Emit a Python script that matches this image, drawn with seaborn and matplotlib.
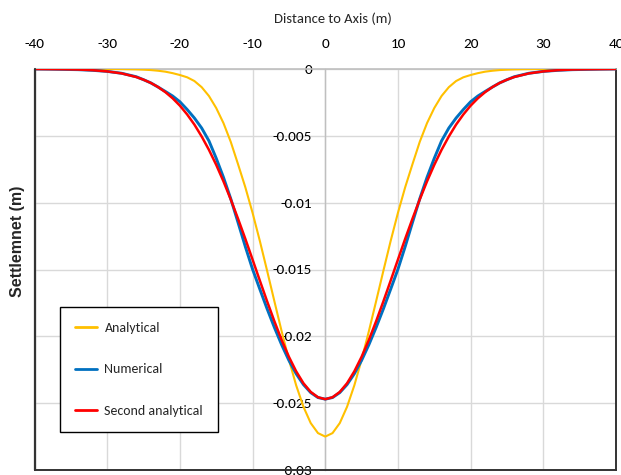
import numpy as np
import pandas as pd
import seaborn as sns
import matplotlib.pyplot as plt
from matplotlib.lines import Line2D

sns.set_theme(style="white")
plt.rcParams['font.family'] = ['Carlito', 'DejaVu Sans']

# ---- data ----
x = [-40, -38, -36, -34, -32, -30, -28, -26,
     -25, -24, -23, -22, -21, -20, -19, -18, -17, -16, -15, -14, -13, -12, -11, -10,
     -9, -8, -7, -6, -5, -4, -3, -2, -1, 0, 1, 2, 3, 4, 5, 6, 7, 8, 9,
     10, 11, 12, 13, 14, 15, 16, 17, 18, 19, 20, 21, 22, 23, 24, 25,
     26, 28, 30, 32, 34, 36, 38, 40]

analytical = [0, 0, 0, 0, 0, 0, -0.00001, -0.00003,
              -0.00005, -0.00008, -0.00013, -0.00020, -0.00031, -0.00045, -0.00062, -0.00090,
              -0.00136, -0.00202, -0.00292, -0.00405, -0.00545, -0.00712, -0.00884, -0.01076,
              -0.01286, -0.01509, -0.01737, -0.01962, -0.02175, -0.02367, -0.02527, -0.02649,
              -0.02724, -0.02750, -0.02724, -0.02649, -0.02527, -0.02367, -0.02175, -0.01962,
              -0.01737, -0.01509, -0.01286,
              -0.01076, -0.00884, -0.00712, -0.00545, -0.00405, -0.00292, -0.00202, -0.00136,
              -0.00090, -0.00062, -0.00045, -0.00031, -0.00020, -0.00013, -0.00008, -0.00005,
              -0.00003, -0.00001, 0, 0, 0, 0, 0, 0]

numerical = [0, -0.00001, -0.00003, -0.00005, -0.00010, -0.00018, -0.00032, -0.00058,
             -0.00080, -0.00104, -0.00135, -0.00168, -0.00202, -0.00245, -0.00303, -0.00367,
             -0.00442, -0.00538, -0.00668, -0.00811, -0.00971, -0.01148, -0.01328, -0.01498,
             -0.01647, -0.01794, -0.01933, -0.02063, -0.02180, -0.02280, -0.02361, -0.02421,
             -0.02458, -0.02470, -0.02458, -0.02421, -0.02361, -0.02280, -0.02180, -0.02063,
             -0.01933, -0.01794, -0.01647,
             -0.01498, -0.01328, -0.01148, -0.00971, -0.00811, -0.00668, -0.00538, -0.00442,
             -0.00367, -0.00303, -0.00245, -0.00202, -0.00168, -0.00135, -0.00104, -0.00080,
             -0.00058, -0.00032, -0.00018, -0.00010, -0.00005, -0.00003, -0.00001, 0]

second_analytical = [0, -0.00001, -0.00002, -0.00004, -0.00009, -0.00018, -0.00033, -0.00060,
                     -0.00080, -0.00104, -0.00135, -0.00173, -0.00219, -0.00274, -0.00340, -0.00416,
                     -0.00505, -0.00605, -0.00717, -0.00841, -0.00976, -0.01120, -0.01270, -0.01426,
                     -0.01583, -0.01738, -0.01887, -0.02027, -0.02153, -0.02262, -0.02351, -0.02416,
                     -0.02456, -0.02470, -0.02456, -0.02416, -0.02351, -0.02262, -0.02153, -0.02027,
                     -0.01887, -0.01738, -0.01583,
                     -0.01426, -0.01270, -0.01120, -0.00976, -0.00841, -0.00717, -0.00605, -0.00505,
                     -0.00416, -0.00340, -0.00274, -0.00219, -0.00173, -0.00135, -0.00104, -0.00080,
                     -0.00060, -0.00033, -0.00018, -0.00009, -0.00004, -0.00002, -0.00001, 0]

series_names = ["Analytical", "Numerical", "Second analytical"]
colors = ["#FFC000", "#0070C0", "#FF0000"]
widths = [1.5, 2.1, 1.8]

x_ticks = [-40, -30, -20, -10, 0, 10, 20, 30, 40]
y_ticks = [0, -0.005, -0.01, -0.015, -0.02, -0.025, -0.03]
y_tick_labels = ["0", "-0.005", "-0.01", "-0.015", "-0.02", "-0.025", "-0.03"]

df = pd.DataFrame({
    "x": x * 3,
    "y": analytical + numerical + second_analytical,
    "series": sum([[n] * len(x) for n in series_names], []),
})

W, H = 621, 475
fig = plt.figure(figsize=(W / 100, H / 100), dpi=100)
ax = fig.add_axes([34.5 / W, 1 - 470 / H, (616 - 34.5) / W, (470 - 69) / H])

for name, c, lw in zip(series_names, colors, widths):
    sns.lineplot(data=df[df.series == name], x="x", y="y", color=c, linewidth=lw,
                 sort=False, estimator=None, ax=ax, legend=False, zorder=3)

ax.set_xlim(-40, 40)
ax.set_ylim(-0.03, 0)
ax.set_xticks(x_ticks)
ax.set_xticklabels([str(v) for v in x_ticks])
ax.set_yticks(y_ticks)
ax.set_yticklabels(y_tick_labels)
ax.set_xlabel("")
ax.set_ylabel("")

ax.xaxis.tick_top()
ax.tick_params(axis="x", length=0, pad=14, labelsize=11, colors="black")
ax.tick_params(axis="y", length=0, pad=9.5, labelsize=11, colors="black")

ax.grid(True, color="#D9D9D9", linewidth=1)
ax.set_axisbelow(True)

ax.spines["left"].set_position(("data", 0))
ax.spines["left"].set_color("#BFBFBF")
ax.spines["left"].set_linewidth(1)
ax.spines["top"].set_color("#BFBFBF")
ax.spines["top"].set_linewidth(1.2)
ax.spines["bottom"].set_color("#333333")
ax.spines["bottom"].set_linewidth(1.4)
ax.spines["right"].set_color("#333333")
ax.spines["right"].set_linewidth(1.4)
ax.axvline(-40, color="#333333", linewidth=1.6, clip_on=False, zorder=4)

fig.text(333 / W, 1 - 19 / H, "Distance to Axis (m)", ha="center", va="center", fontsize=10.5)
fig.text(18 / W, 1 - 241 / H, "Settlemnet (m)", rotation=90, ha="center", va="center",
         fontsize=11.5, fontweight="bold",
         family=["Liberation Sans", "DejaVu Sans"])

handles = [Line2D([0], [0], color=c, linewidth=2) for c in colors]
leg = ax.legend(handles, series_names, loc="upper left",
                bbox_to_anchor=(60 / W, 1 - 307 / H), bbox_transform=fig.transFigure,
                borderaxespad=0, frameon=True, fancybox=False, edgecolor="black",
                framealpha=1, fontsize=10, handlelength=1.6, handletextpad=0.55,
                labelspacing=2.15, borderpad=1.05)
leg.get_frame().set_linewidth(1)

fig.savefig("out.png", dpi=100)
